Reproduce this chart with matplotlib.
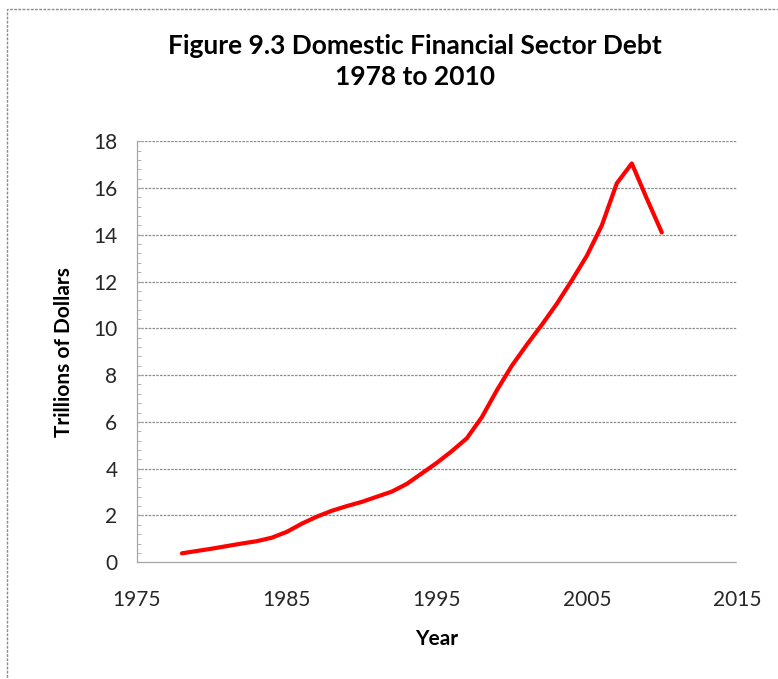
import numpy as np
import matplotlib
matplotlib.use("Agg")
import matplotlib.pyplot as plt
from matplotlib.patches import Rectangle
from matplotlib.ticker import MultipleLocator

# ===== Dados: dívida do setor financeiro doméstico (trilhões de US$) =====
years = list(range(1978, 2011))
debt = [0.38, 0.48, 0.58, 0.69, 0.80, 0.90, 1.05, 1.30, 1.65, 1.95,
        2.20, 2.40, 2.58, 2.80, 3.02, 3.35, 3.80, 4.25, 4.75, 5.30,
        6.20, 7.35, 8.40, 9.30, 10.15, 11.05, 12.05, 13.10, 14.40, 16.20,
        17.05, 15.55, 14.10]

x_ticks = [1975, 1985, 1995, 2005, 2015]
y_ticks = list(range(0, 19, 2))

TITLE = "Figure 9.3 Domestic Financial Sector Debt\n1978 to 2010"
XLABEL = "Year"
YLABEL = "Trillions of Dollars"

plt.rcParams["font.family"] = ["Lato", "DejaVu Sans"]

fig = plt.figure(figsize=(7.78, 6.79), dpi=100)
ax = fig.add_axes([0.176, 0.172, 0.771, 0.620])

ax.plot(years, debt, color="#ff0000", lw=3.0, solid_joinstyle="round",
        solid_capstyle="round", zorder=3)

ax.set_xlim(1975, 2015)
ax.set_ylim(0, 18)
ax.set_xticks(x_ticks)
ax.set_yticks(y_ticks)
ax.yaxis.set_minor_locator(MultipleLocator(0.4))

# grade horizontal pontilhada estilo Excel
for v in y_ticks[1:]:
    ax.axhline(v, color="#8c8c8c", lw=0.9, ls=(0, (2, 1)), zorder=1)

for s in ("top", "right"):
    ax.spines[s].set_visible(False)
for s in ("left", "bottom"):
    ax.spines[s].set_color("#a6a6a6")
    ax.spines[s].set_linestyle((0, (2, 1)))
    ax.spines[s].set_linewidth(0.9)

ax.tick_params(axis="both", which="major", labelsize=15, labelcolor="#262626",
               length=0)
ax.tick_params(axis="y", which="major", pad=14, length=4, color="#a6a6a6",
               direction="in")
ax.tick_params(axis="y", which="minor", length=3, color="#a6a6a6", direction="in")
ax.tick_params(axis="x", pad=20)

ax.set_xlabel(XLABEL, fontsize=15, fontweight="bold", labelpad=14)
ax.set_ylabel(YLABEL, fontsize=15, fontweight="bold", labelpad=14)

fig.text(0.533, 0.910, TITLE, ha="center", va="center", fontsize=19,
         fontweight="bold", linespacing=1.35)

# moldura pontilhada da área do gráfico
fig.patches.append(Rectangle((0.009, -0.05), 1.2, 1.037, transform=fig.transFigure,
                             fill=False, edgecolor="#8c8c8c", lw=1.0,
                             ls=(0, (2, 1)), clip_on=False))

fig.savefig("out.png", dpi=100)
